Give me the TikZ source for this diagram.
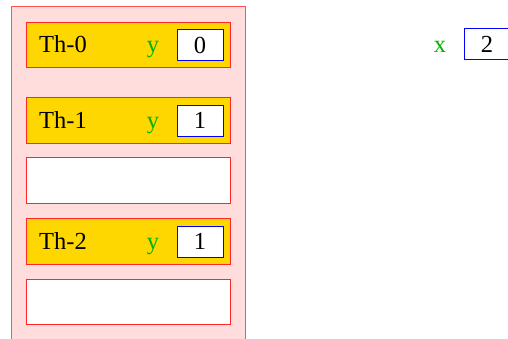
\documentclass[tikz,border=0pt]{standalone}
\usepackage{fontspec}
\setmainfont{Liberation Serif}
\definecolor{pinkfill}{RGB}{255,221,221}
\definecolor{goldfill}{RGB}{255,215,0}
\definecolor{ygreen}{RGB}{0,180,0}
\definecolor{boxred}{RGB}{255,40,40}
\begin{document}
\begin{tikzpicture}[x=1pt,y=1pt,
  thread/.style={draw=boxred,fill=goldfill,line width=1pt,minimum width=204pt,minimum height=45.5pt,inner sep=0pt,anchor=west},
  slot/.style={draw=boxred,fill=white,line width=1pt,minimum width=204pt,minimum height=45.5pt,inner sep=0pt,anchor=west},
  valbox/.style={draw=blue,fill=white,line width=1pt,minimum width=46pt,minimum height=31pt,inner sep=0pt,font=\fontsize{24.5}{28}\selectfont},
  lbl/.style={inner sep=0pt,anchor=base west,font=\fontsize{24.5}{28}\selectfont},
  varname/.style={inner sep=0pt,anchor=base,text=ygreen,font=\fontsize{24.5}{28}\selectfont}]
\useasboundingbox (0,0) rectangle (508,338);
\clip (0,0) rectangle (508,338);
\draw[draw=boxred!80,fill=pinkfill,line width=1pt] (11,-5) rectangle (245,331);
% thread 0
\node[thread] (t0) at (26,293) {};
\node[lbl] (t0l) at (39,285) {Th-0};
\node[varname] (t0y) at (153,285) {y};
\node[valbox] (t0v) at (200,293) {0};
% thread 1
\node[thread] (t1) at (26,217.5) {};
\node[lbl] (t1l) at (39,209.5) {Th-1};
\node[varname] (t1y) at (153,209.5) {y};
\node[valbox] (t1v) at (200,217.5) {1};
% empty slot
\node[slot] (s1) at (26,157.5) {};
% thread 2
\node[thread] (t2) at (26,96.5) {};
\node[lbl] (t2l) at (39,88.5) {Th-2};
\node[varname] (t2y) at (153,88.5) {y};
\node[valbox] (t2v) at (200,96.5) {1};
% empty slot
\node[slot] (s2) at (26,36) {};
% global x
\node[varname] (gx) at (440,285.5) {x};
\node[valbox] (gxv) at (487,293.5) {2};
\end{tikzpicture}
\end{document}
